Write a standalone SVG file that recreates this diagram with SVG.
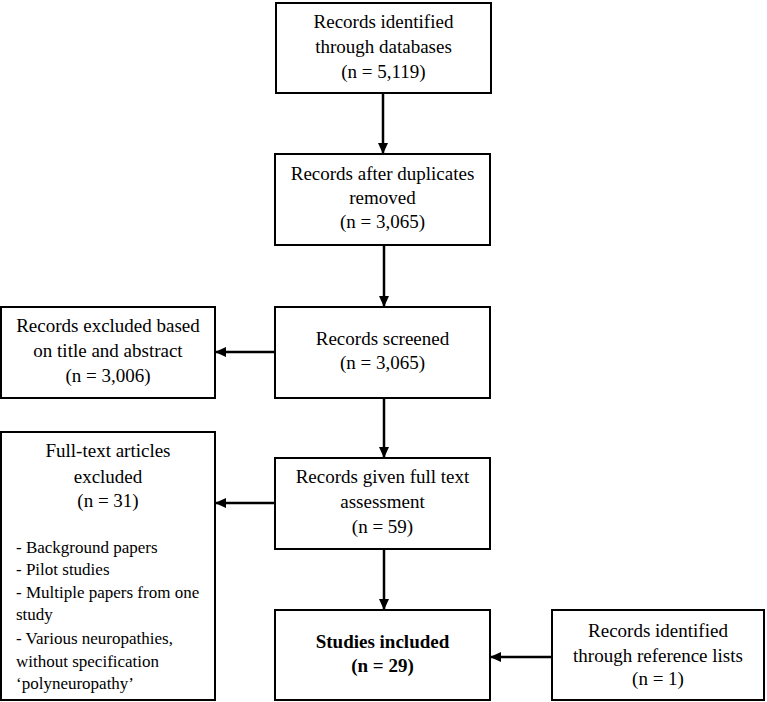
<svg xmlns="http://www.w3.org/2000/svg" width="767" height="702" viewBox="0 0 767 702" font-family="Liberation Serif, Times New Roman, serif" font-size="19">
<defs>
<style>
.box{fill:#fff;stroke:#000;stroke-width:2}
.t{fill:#000;text-anchor:middle}
.l{text-anchor:start;font-size:17px}
.b{font-weight:bold}
.c{stroke:#000;stroke-width:2.5;fill:none;marker-end:url(#ah)}
</style>
<marker id="ah" markerWidth="11" markerHeight="11" refX="10" refY="5.5" orient="auto" markerUnits="userSpaceOnUse">
<path d="M0,0.5 L11,5.5 L0,10.5 Z" fill="#000"/>
</marker>
</defs>
<rect width="767" height="702" fill="#fff"/>
<g id="connectors">
<line class="c" x1="383" y1="93" x2="383" y2="153"/>
<line class="c" x1="384" y1="245" x2="384" y2="306"/>
<line class="c" x1="384" y1="398" x2="384" y2="457"/>
<line class="c" x1="384" y1="549" x2="384" y2="609"/>
<line class="c" x1="275" y1="352" x2="216" y2="352"/>
<line class="c" x1="275" y1="503" x2="216" y2="503"/>
<line class="c" x1="552" y1="657" x2="491" y2="657"/>
</g>
<g id="n1">
<rect class="box" x="276" y="3" width="215" height="90"/>
<text class="t" x="383.5" y="28">Records identified</text>
<text class="t" x="383.5" y="53">through databases</text>
<text class="t" x="383.5" y="78">(n = 5,119)</text>
</g>
<g id="n2">
<rect class="box" x="275" y="154" width="215" height="91"/>
<text class="t" x="382.5" y="180">Records after duplicates</text>
<text class="t" x="382.5" y="204">removed</text>
<text class="t" x="382.5" y="228">(n = 3,065)</text>
</g>
<g id="n3">
<rect class="box" x="275" y="307" width="215" height="91"/>
<text class="t" x="382.5" y="345">Records screened</text>
<text class="t" x="382.5" y="369">(n = 3,065)</text>
</g>
<g id="n4">
<rect class="box" x="1" y="307" width="214" height="91"/>
<text class="t" x="108" y="332">Records excluded based</text>
<text class="t" x="108" y="357">on title and abstract</text>
<text class="t" x="108" y="382">(n = 3,006)</text>
</g>
<g id="n5">
<rect class="box" x="275" y="458" width="215" height="91"/>
<text class="t" x="382.5" y="483">Records given full text</text>
<text class="t" x="382.5" y="508">assessment</text>
<text class="t" x="382.5" y="533">(n = 59)</text>
</g>
<g id="n6">
<rect class="box" x="1" y="432" width="214" height="268"/>
<text class="t" x="108" y="457">Full-text articles</text>
<text class="t" x="108" y="483">excluded</text>
<text class="t" x="108" y="507">(n = 31)</text>
<text class="t l" x="16" y="553">- Background papers</text>
<text class="t l" x="16" y="575">- Pilot studies</text>
<text class="t l" x="16" y="598">- Multiple papers from one</text>
<text class="t l" x="16" y="620">study</text>
<text class="t l" x="16" y="644">- Various neuropathies,</text>
<text class="t l" x="16" y="667">without specification</text>
<text class="t l" x="16" y="689">‘polyneuropathy’</text>
</g>
<g id="n7">
<rect class="box" x="275" y="610" width="215" height="90"/>
<text class="t b" x="382.5" y="648">Studies included</text>
<text class="t b" x="382.5" y="672">(n = 29)</text>
</g>
<g id="n8">
<rect class="box" x="552" y="610" width="212" height="90"/>
<text class="t" x="658" y="637">Records identified</text>
<text class="t" x="658" y="662">through reference lists</text>
<text class="t" x="658" y="685">(n = 1)</text>
</g>
</svg>
